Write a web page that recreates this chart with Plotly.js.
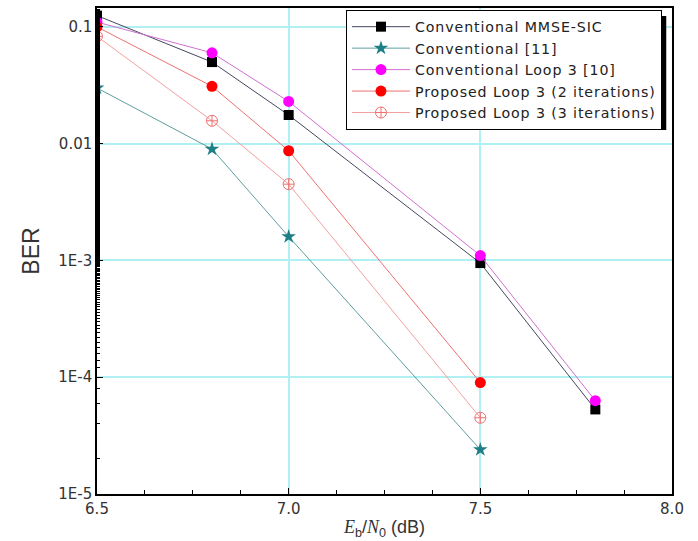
<!DOCTYPE html>
<html><head><meta charset="utf-8">
<script src="https://cdn.plot.ly/plotly-3.0.1.min.js"></script>
<style>body{margin:0;background:#fff}#c{width:698px;height:541px}</style>
</head><body><div id="c"></div>
<script>
const names = ["Conventional MMSE-SIC","Conventional [11]","Conventional Loop 3 [10]","Proposed Loop 3 (2 iterations)","Proposed Loop 3 (3 iterations)"];
const xMmse = [6.5, 6.8, 7.0, 7.5, 7.8];
const yMmse = [0.125, 0.05, 0.0176, 0.00095, 5.3e-5];
const xConv11 = [6.5, 6.8, 7.0, 7.5];
const yConv11 = [0.030, 0.009, 0.0016, 2.4e-5];
const xLoop10 = [6.5, 6.8, 7.0, 7.5, 7.8];
const yLoop10 = [0.11, 0.06, 0.023, 0.0011, 6.3e-5];
const xProp2 = [6.5, 6.8, 7.0, 7.5];
const yProp2 = [0.10, 0.031, 0.0087, 9e-5];
const xProp3 = [6.5, 6.8, 7.0, 7.5];
const yProp3 = [0.083, 0.0157, 0.0045, 4.5e-5];
const xTickVals = [6.5, 7.0, 7.5, 8.0];
const xTickText = ['6.5','7.0','7.5','8.0'];
const yTickVals = [0.1, 0.01, 0.001, 0.0001, 0.00001];
const yTickText = ["0.1","0.01","1E-3","1E-4","1E-5"];

const wide = s => '<span style="letter-spacing:0.9px">' + s + '</span>';

const traces = [
 {x:xMmse,y:yMmse,name:wide(names[0]),mode:'lines+markers',line:{color:'#44485e',width:1},marker:{symbol:'square',size:10,color:'#000'}},
 {x:xConv11,y:yConv11,name:wide(names[1]),mode:'lines+markers',line:{color:'#5f9ea0',width:1},marker:{symbol:'star',size:11,color:'#1f7f86'}},
 {x:xLoop10,y:yLoop10,name:wide(names[2]),mode:'lines+markers',line:{color:'#d070d0',width:1},marker:{symbol:'circle',size:11,color:'#ff00ff'}},
 {x:xProp2,y:yProp2,name:wide(names[3]),mode:'lines+markers',line:{color:'#f07070',width:1},marker:{symbol:'circle',size:11,color:'#ff0000'}},
 {x:xProp3,y:yProp3,name:wide(names[4]),mode:'lines+markers',line:{color:'#f4a0a0',width:1},marker:{symbol:'circle-cross-open',size:11,color:'#f07070',line:{width:1}}}
];

const tickFont = {family:'DejaVu Sans, sans-serif',size:15,color:'#333'};
const layout = {
 width:698,height:541,
 margin:{l:97,r:26,t:8,b:47},
 paper_bgcolor:'#fff',plot_bgcolor:'#fff',
 font:{family:'Liberation Sans, Arial, sans-serif',color:'#222',size:15},
 showlegend:true,
 legend:{x:0.433,y:0.996,xanchor:'left',yanchor:'top',bgcolor:'#fff',bordercolor:'#000',borderwidth:1,itemwidth:58,
   font:{family:'DejaVu Sans, sans-serif',size:14.2,color:'#222'},tracegroupgap:0},
 xaxis:{range:[6.5,8.0],tickvals:xTickVals,ticktext:xTickText,tickfont:tickFont,ticks:'inside',ticklen:6,tickcolor:'#000',
   showline:true,linecolor:'#000',linewidth:1.5,mirror:true,showgrid:true,gridcolor:'#b0f0f2',gridwidth:1.5,zeroline:false,
   minor:{dtick:0.125,tick0:6.5,ticks:'inside',ticklen:4,tickcolor:'#000',showgrid:false},
   title:{text:'<span style="font-family:Liberation Serif"><i>E</i></span><sub>b</sub>/<span style="font-family:Liberation Serif"><i>N</i></span><sub>0</sub> (dB)',font:{size:18,color:'#333'},standoff:4}},
 yaxis:{type:'log',range:[-5,-0.838],tickvals:yTickVals,ticktext:yTickText,tickfont:tickFont,ticks:'inside',ticklen:6,tickcolor:'#000',
   showline:true,linecolor:'#000',linewidth:1.5,mirror:true,showgrid:true,gridcolor:'#b0f0f2',gridwidth:1.5,zeroline:false,
   minor:{ticks:'inside',ticklen:3,tickcolor:'#000',showgrid:false},
   title:{text:'BER',font:{size:23,color:'#333'},standoff:12}},
 shapes:[{type:'rect',xref:'paper',yref:'paper',x0:0.445,x1:0.99,y0:0.749,y1:0.9835,fillcolor:'#000',line:{width:0},layer:'above'}]
};
Plotly.newPlot('c',traces,layout,{displayModeBar:false});
</script></body></html>
